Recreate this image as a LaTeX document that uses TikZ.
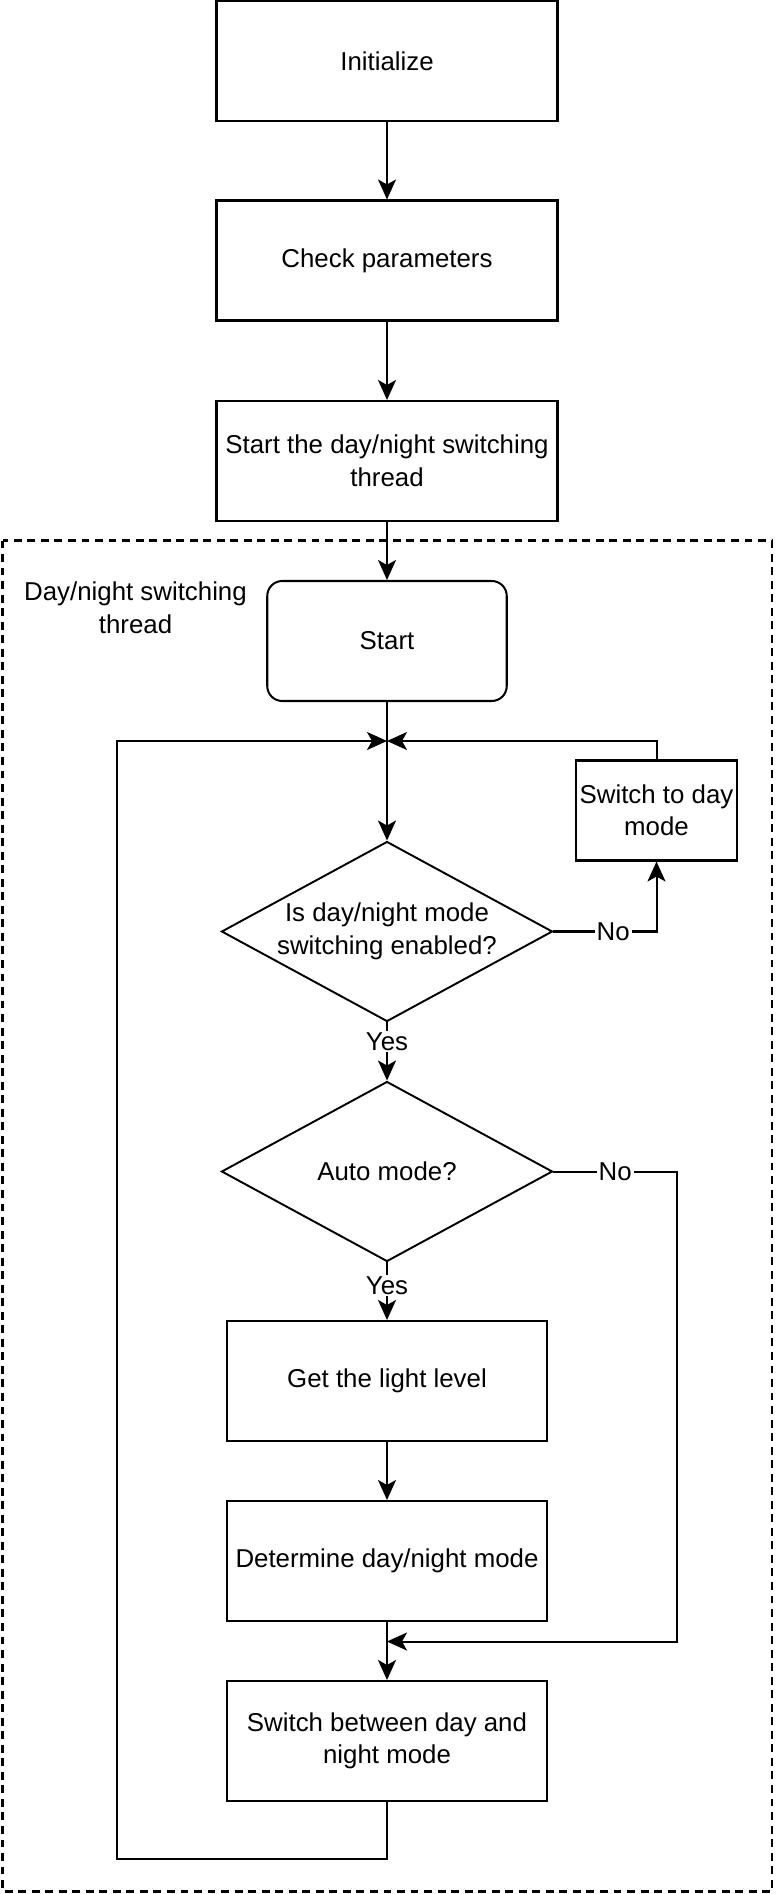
\documentclass[tikz,border=0pt]{standalone}
\usepackage{fontspec}
\setmainfont{Liberation Sans}
\usepackage{tikz}
\usetikzlibrary{arrows.meta, shapes.geometric}

\begin{document}
\begin{tikzpicture}[
    every node/.style={font=\fontsize{14.7}{18.5}\selectfont, align=center},
    proc/.style={draw, line width=1.15pt, minimum width=6.82cm, minimum height=2.4cm, inner sep=2pt},
    decide/.style={draw, diamond, line width=1.1pt, aspect=1.84, minimum width=6.62cm, minimum height=3.6cm, inner sep=0pt},
    arr/.style={line width=1.15pt, -{Stealth[length=0.4cm, width=0.36cm, inset=0.1cm]}},
    lbl/.style={fill=white, inner sep=1pt},
]
    \useasboundingbox (0,0) rectangle (15.52,-37.88);
    \draw[dash pattern=on 4.5pt off 3.2pt, line width=1.2pt] (0.05,-10.81) rectangle (15.44,-37.83);

    \node[proc] (init) at (7.74,-1.22) {Initialize};
    \node[proc] (check) at (7.74,-5.21) {Check parameters};
    \node[proc] (thread) at (7.74,-9.22) {Start the day/night switching\\thread};
    \node (grp) at (2.71,-12.16) {Day/night switching\\thread};
    \node[proc, rounded corners=0.3cm, minimum width=4.79cm] (start) at (7.74,-12.82) {Start};
    \coordinate (merge) at (7.74,-14.82);
    \node[decide] (dec1) at (7.74,-18.63) {Is day/night mode\\switching enabled?};
    \node[proc, minimum width=3.19cm, minimum height=2cm] (day) at (13.13,-16.21) {Switch to day\\mode};
    \node[decide] (dec2) at (7.74,-23.43) {Auto mode?};
    \node[proc, minimum width=6.4cm] (light) at (7.74,-27.62) {Get the light level};
    \node[proc, minimum width=6.4cm] (mode) at (7.74,-31.22) {Determine day/night mode};
    \node[proc, minimum width=6.4cm] (switch) at (7.74,-34.82) {Switch between day and\\night mode};
    \coordinate (join) at (7.74,-32.83);
    \coordinate (noturn) at (13.54,-23.43);
    \coordinate (loopturn) at (2.34,-37.18);

    \draw[arr] (init) -- (check);
    \draw[arr] (check) -- (thread);
    \draw[arr] (thread) -- (start);
    \draw[arr] (start) -- (dec1);
    \draw[arr] (dec1.east) -| node[lbl, pos=0.29] {No} (day.south);
    \draw[arr] (day.north) |- (merge);
    \draw[arr] (dec1) -- node[lbl, pos=0.33] {Yes} (dec2);
    \draw[arr] (dec2) -- node[lbl, pos=0.4] {Yes} (light);
    \draw[arr] (dec2.east) -- node[lbl] {No} (noturn) |- (join);
    \draw[arr] (light) -- (mode);
    \draw[arr] (mode) -- (switch);
    \draw[arr] (switch.south) |- (loopturn) |- (merge);
\end{tikzpicture}
\end{document}
